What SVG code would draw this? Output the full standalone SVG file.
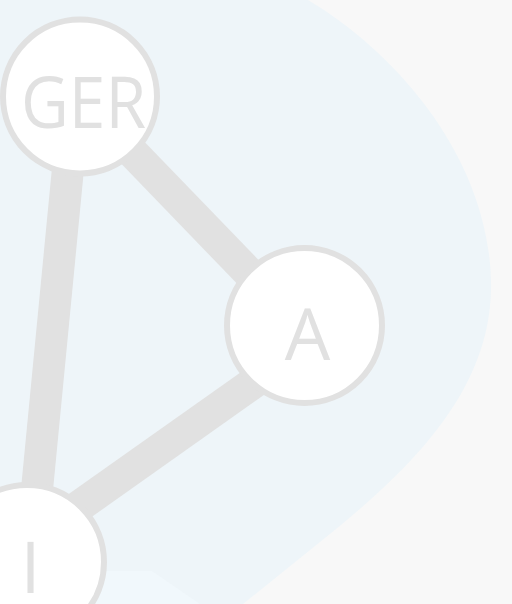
<svg xmlns="http://www.w3.org/2000/svg" width="512" height="604" viewBox="0 0 512 604">
<style>
.edge{stroke:#e1e1e1;stroke-width:32;fill:none}
.node circle{fill:#ffffff;stroke:#e1e1e1;stroke-width:6}
.node text{font-family:"Open Sans","Liberation Sans",sans-serif;font-size:72px;fill:#e1e1e1;text-anchor:middle}
</style>
<rect x="0" y="0" width="512" height="604" fill="#f8f8f8"/>
<path d="M0,0 H308 C400,55 488,160 491,280 C494,390 410,470 320,542 L243,604 H0 Z" fill="#eef5f9"/>
<path d="M24,530 L100,571 L152,571 L200,604 L0,604 L0,560 Z" fill="#f1f8fc"/>
<g id="connectors">
<line class="edge" x1="80" y1="98" x2="304" y2="330"/>
<line class="edge" x1="75" y1="96" x2="30" y2="562"/>
<line class="edge" x1="304" y1="347" x2="30" y2="541"/>
</g>
<g id="node-GER" class="node">
<circle cx="80" cy="96.5" r="77"/>
<text x="83.5" y="128" textLength="125" lengthAdjust="spacingAndGlyphs">GER</text>
</g>
<g id="node-A" class="node">
<circle cx="304.5" cy="325.5" r="77.5"/>
<text x="307.5" y="360">A</text>
</g>
<g id="node-I" class="node">
<circle cx="27" cy="562" r="77"/>
<text x="30.5" y="593">I</text>
</g>
</svg>
